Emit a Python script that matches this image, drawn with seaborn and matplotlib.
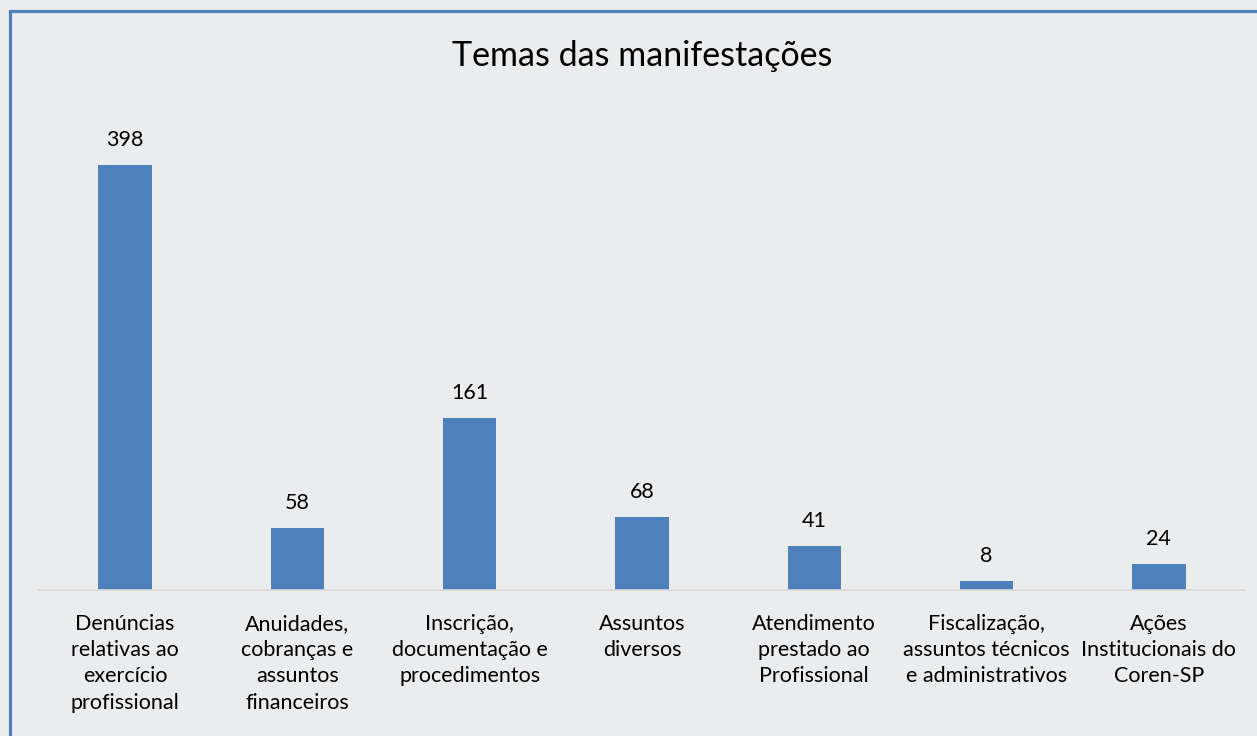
import matplotlib
matplotlib.use("Agg")
import matplotlib.pyplot as plt
import seaborn as sns
import pandas as pd
from matplotlib.patches import Rectangle

# data
categories = [
    "Denúncias\nrelativas ao\nexercício\nprofissional",
    "Anuidades,\ncobranças e\nassuntos\nfinanceiros",
    "Inscrição,\ndocumentação e\nprocedimentos",
    "Assuntos\ndiversos",
    "Atendimento\nprestado ao\nProfissional",
    "Fiscalização,\nassuntos técnicos\ne administrativos",
    "Ações\nInstitucionais do\nCoren-SP",
]
values = [398, 58, 161, 68, 41, 8, 24]

df = pd.DataFrame({"tema": categories, "qtd": values})

bg = "#ebecee"
blue = "#4f81bd"

sns.set_theme(style="white")
plt.rcParams["font.family"] = ["Lato", "DejaVu Sans"]

fig = plt.figure(figsize=(12.57, 7.36), dpi=100, facecolor=bg)
ax = fig.add_axes([39 / 1257, 146 / 736, 1206 / 1257, 490 / 736])
ax.set_facecolor(bg)

sns.barplot(data=df, x="tema", y="qtd", color=blue, width=0.31, saturation=1,
            linewidth=0, ax=ax)

for c in ax.containers:
    ax.bar_label(c, padding=11, fontsize=15.5, color="#000000")

ax.set_ylim(0, 459)
ax.set_xlim(-0.5, len(categories) - 0.5)
ax.set_yticks([])
ax.set_xlabel("")
ax.set_ylabel("")
for s in ["top", "left", "right"]:
    ax.spines[s].set_visible(False)
ax.spines["bottom"].set_color("#d9d9d9")
ax.spines["bottom"].set_linewidth(1.2)
ax.tick_params(axis="x", length=0, pad=17, labelsize=15.5, labelcolor="#000000")
for t in ax.get_xticklabels():
    t.set_linespacing(1.4)
    t.set_verticalalignment("top")

fig.text(642 / 1257, 1 - 56 / 736, "Temas das manifestações", ha="center", va="center",
         fontsize=24.5, color="#000000")

# blue frame, cut off on the right and bottom like the source image
frame = Rectangle((9.5 / 1257, -0.1), 1.2, 1.1 - 11 / 736, transform=fig.transFigure,
                  fill=False, edgecolor=blue, linewidth=2.3, clip_on=False)
fig.patches.append(frame)

fig.savefig("out.png", dpi=100, facecolor=bg)
